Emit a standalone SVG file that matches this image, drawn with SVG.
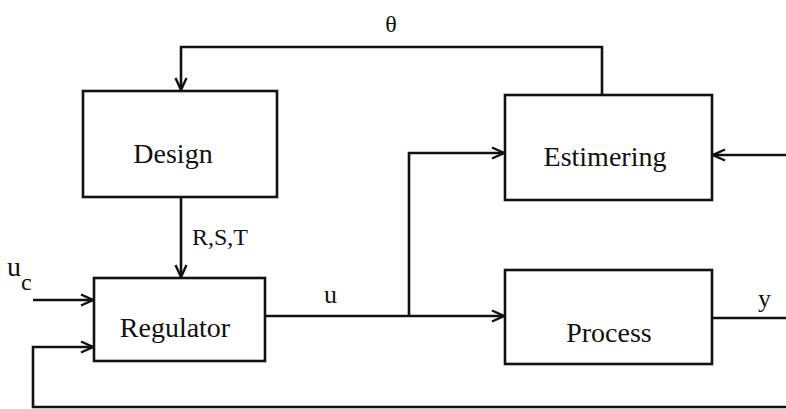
<svg xmlns="http://www.w3.org/2000/svg" width="786" height="409" viewBox="0 0 786 409">
<style>
.box{fill:#fff;stroke:#111;stroke-width:2.6}
.ln{fill:none;stroke:#111;stroke-width:2.6}
text{font-family:'Liberation Serif','DejaVu Serif',serif;fill:#111}
.big{font-size:28px}
.lab{font-size:26px}
</style>
<defs>
<marker id="ah" viewBox="-14 -7 16 14" refX="0" refY="0" markerWidth="16" markerHeight="14" markerUnits="userSpaceOnUse" orient="auto">
<path d="M-12,-5.5 L0,0 L-12,5.5" fill="none" stroke="#111" stroke-width="2.4"/>
</marker>
</defs>
<rect width="786" height="409" fill="#fff"/>
<g id="connectors">
<path class="ln" d="M602,95 V47 H181 V90" marker-end="url(#ah)"/>
<path class="ln" d="M181,197 V277" marker-end="url(#ah)"/>
<path class="ln" d="M33,300 H93" marker-end="url(#ah)"/>
<path class="ln" d="M786,407 H33 V347 H93" marker-end="url(#ah)"/>
<path class="ln" d="M265,316 H504" marker-end="url(#ah)"/>
<path class="ln" d="M409,316 V153 H504" marker-end="url(#ah)"/>
<path class="ln" d="M786,155 H713" marker-end="url(#ah)"/>
<path class="ln" d="M712,318 H786"/>
</g>
<g id="design" font-family="Liberation Serif, serif">
<rect class="box" x="83" y="91" width="194" height="106"/>
<text class="big" x="173" y="163" text-anchor="middle">Design</text>
</g>
<g id="estimering" font-family="Liberation Serif, serif">
<rect class="box" x="505" y="95" width="207" height="105"/>
<text class="big" x="605" y="166" text-anchor="middle">Estimering</text>
</g>
<g id="regulator" font-family="Liberation Serif, serif">
<rect class="box" x="94" y="278" width="171" height="83"/>
<text class="big" x="175" y="337" text-anchor="middle">Regulator</text>
</g>
<g id="process" font-family="Liberation Serif, serif">
<rect class="box" x="505" y="270" width="207" height="94"/>
<text class="big" x="609" y="342" text-anchor="middle">Process</text>
</g>
<g id="labels" font-family="Liberation Serif, serif">
<text x="391" y="32" font-size="24" text-anchor="middle">θ</text>
<text x="192" y="245" font-size="24">R,S,T</text>
<text x="7" y="276" font-size="28">u</text>
<text x="21" y="290" font-size="24">c</text>
<text class="lab" x="324" y="303">u</text>
<text class="lab" x="758" y="307">y</text>
</g>
</svg>
